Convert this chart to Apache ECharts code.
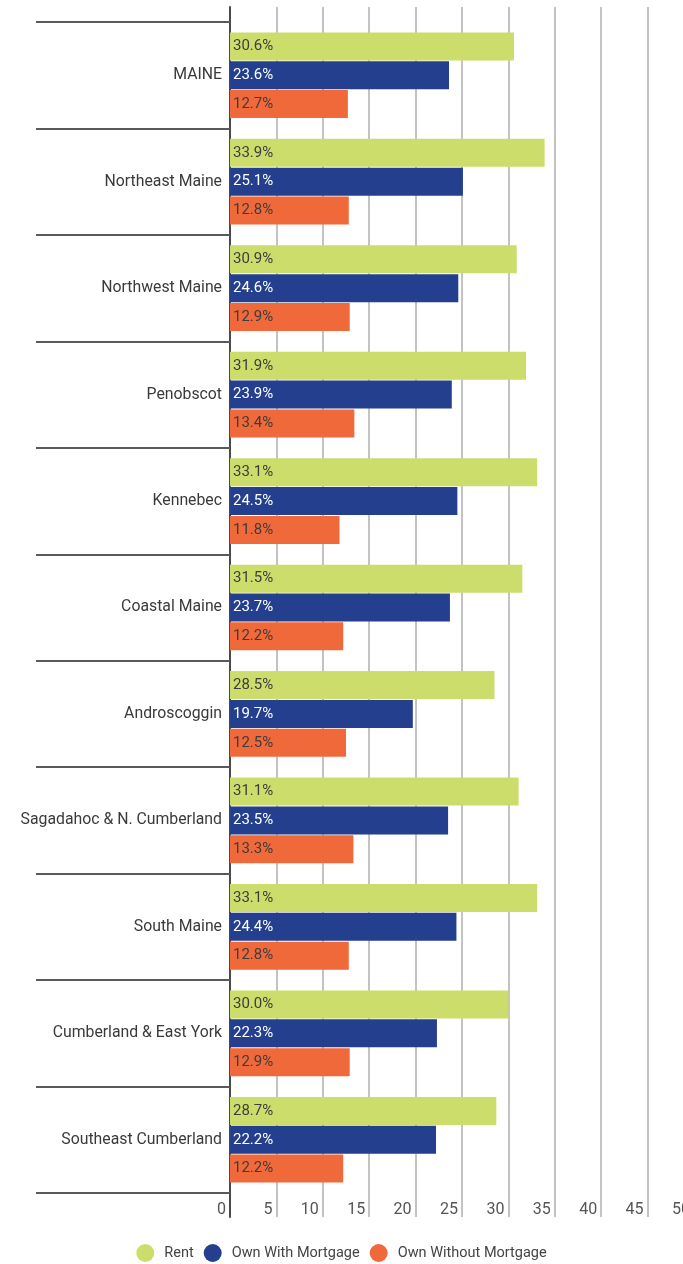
<!DOCTYPE html>
<html>
<head>
<meta charset="utf-8">
<script src="https://cdn.jsdelivr.net/npm/echarts@6/dist/echarts.min.js"></script>
<style>
  html, body { margin: 0; padding: 0; background: #ffffff; }
  #chart { width: 683px; height: 1264px; }
</style>
</head>
<body>
<div id="chart"></div>
<script>
// Housing cost burden by region, share of households (%)
const regions = [
  'MAINE', 'Northeast Maine', 'Northwest Maine', 'Penobscot', 'Kennebec',
  'Coastal Maine', 'Androscoggin', 'Sagadahoc & N. Cumberland', 'South Maine',
  'Cumberland & East York', 'Southeast Cumberland'
];
const rent = [30.6, 33.9, 30.9, 31.9, 33.1, 31.5, 28.5, 31.1, 33.1, 30.0, 28.7];
const ownWithMortgage = [23.6, 25.1, 24.6, 23.9, 24.5, 23.7, 19.7, 23.5, 24.4, 22.3, 22.2];
const ownWithoutMortgage = [12.7, 12.8, 12.9, 13.4, 11.8, 12.2, 12.5, 13.3, 12.8, 12.9, 12.2];
const xTicks = { min: 0, max: 50, interval: 5 };

const FONT = 'Roboto, "Open Sans", sans-serif';
const chart = echarts.init(document.getElementById('chart'), null, { renderer: 'canvas' });

function barSeries(name, data, color, labelColor) {
  return {
    name: name,
    type: 'bar',
    xAxisIndex: 1,
    yAxisIndex: 1,
    data: data,
    barWidth: 28,
    barGap: '3%',
    itemStyle: { color: color },
    label: {
      show: true,
      position: 'insideLeft',
      distance: 3,
      color: labelColor,
      fontFamily: FONT,
      fontSize: 15,
      formatter: p => p.value.toFixed(1) + '%'
    },
    emphasis: { disabled: true }
  };
}

chart.setOption({
  animation: false,
  backgroundColor: '#ffffff',
  legend: {
    data: ['Rent', 'Own With Mortgage', 'Own Without Mortgage'],
    icon: 'circle',
    itemWidth: 18,
    itemHeight: 18,
    itemGap: 10,
    left: 'center',
    top: 1239,
    textStyle: { fontFamily: FONT, fontSize: 14.5, color: '#444444', padding: [0, 0, 0, 5] }
  },
  grid: [
    // frame: tall vertical gridlines and zero line (plot runs past the right edge)
    { left: 230, width: 464, top: 7, bottom: 47, containLabel: false, outerBoundsMode: 'none' },
    // bars and category bands
    { left: 230, width: 464, top: 22, bottom: 71, containLabel: false, outerBoundsMode: 'none' }
  ],
  xAxis: [
    {
      gridIndex: 0, type: 'value', min: xTicks.min, max: xTicks.max, interval: xTicks.interval,
      axisLine: { show: false }, axisTick: { show: false }, axisLabel: { show: false },
      splitLine: { show: true, lineStyle: { color: '#c3c3c3', width: 2 } }
    },
    {
      gridIndex: 1, type: 'value', min: xTicks.min, max: xTicks.max, interval: xTicks.interval,
      axisLine: { show: false }, axisTick: { show: false }, splitLine: { show: false },
      axisLabel: {
        show: true, align: 'right', margin: 9, padding: [0, 4, 0, 0],
        fontFamily: FONT, fontSize: 16, color: '#555555'
      }
    }
  ],
  yAxis: [
    {
      gridIndex: 0, type: 'value', min: 0, max: 1,
      axisLine: { show: true, lineStyle: { color: '#4a4a4a', width: 2 } },
      axisTick: { show: false }, axisLabel: { show: false }, splitLine: { show: false }
    },
    {
      gridIndex: 1, type: 'category', data: regions, inverse: true,
      axisLine: { show: false },
      axisTick: { show: true, interval: 0, length: 194, lineStyle: { color: '#5a5a5a', width: 2 } },
      axisLabel: { margin: 8, fontFamily: FONT, fontSize: 15.8, color: '#3a3a3a' },
      splitLine: { show: false }
    }
  ],
  series: [
    barSeries('Rent', rent, '#cddd6b', '#3d3d3d'),
    barSeries('Own With Mortgage', ownWithMortgage, '#243f8d', '#ffffff'),
    barSeries('Own Without Mortgage', ownWithoutMortgage, '#f0693a', '#3d3d3d')
  ]
});
</script>
</body>
</html>
